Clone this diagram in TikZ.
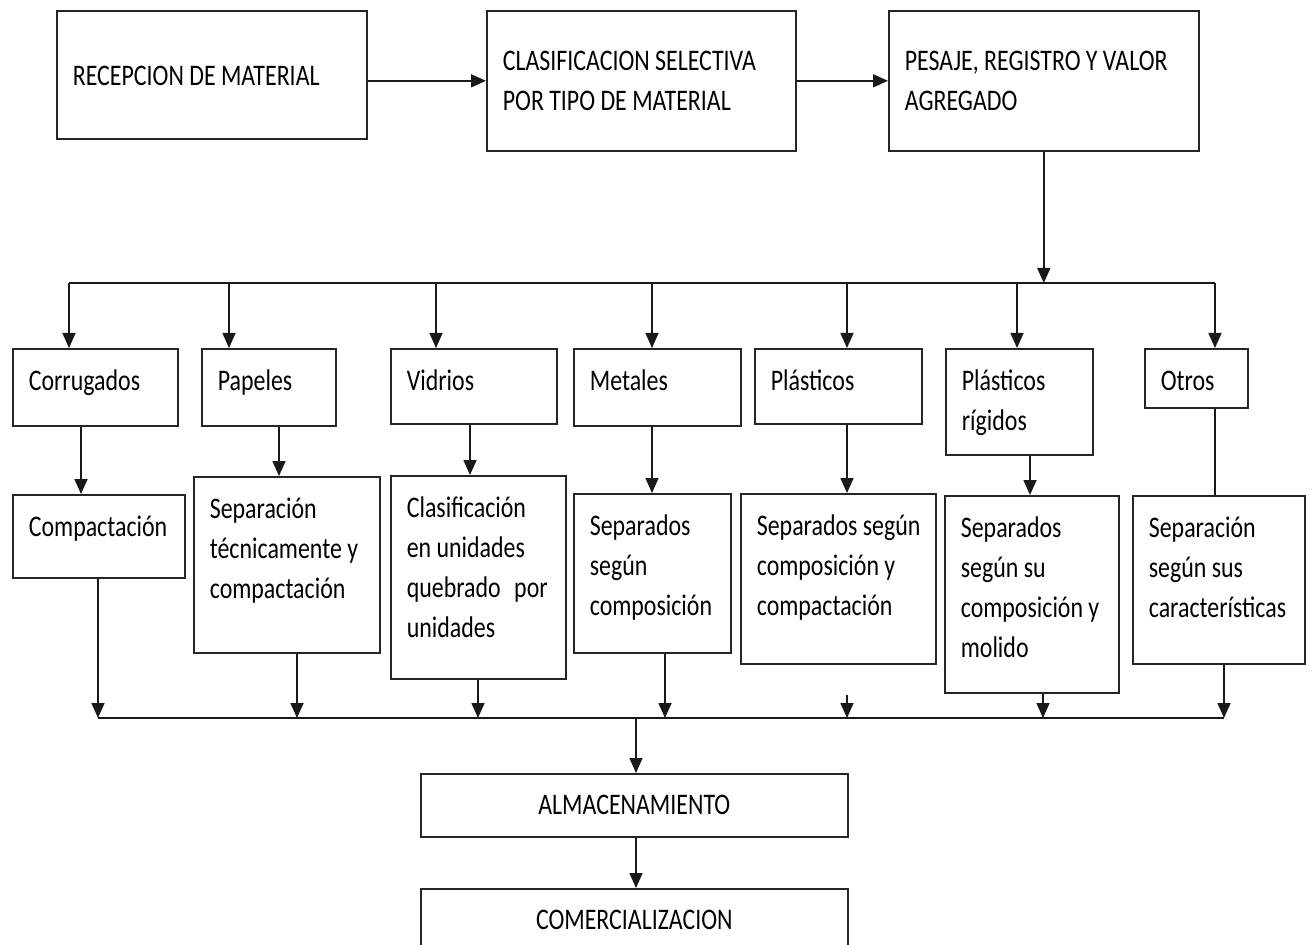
\documentclass[tikz,border=0pt]{standalone}
\usepackage{fontspec}
\setmainfont{Carlito}[FakeStretch=0.8]
\usetikzlibrary{arrows.meta}

\begin{document}
\begin{tikzpicture}[x=0.02cm, y=-0.02cm, line width=0.95pt,
      font=\fontsize{17}{22.7}\selectfont,
      caja/.style={draw=black!85, anchor=north west, align=left,
                   inner xsep=0.32cm, inner ysep=0pt, text height=0.84cm,
                   execute at begin node={\spaceskip=0.18em\relax}},
      centro/.style={draw=black!85, anchor=north west, inner sep=0pt,
                     minimum width=8.54cm, minimum height=1.26cm},
      flecha/.style={draw=black!90, -{Triangle[length=0.3cm, width=0.26cm]}}]
    \useasboundingbox (0,0) rectangle (1309,945);
    % fila superior
    \node[caja, text width=5.56cm, text height=1.5cm, text depth=1.06cm] (rec) at (56,10) {RECEPCION DE MATERIAL};
    \node[caja, text width=5.54cm, text height=1.2cm, text depth=1.6cm] (clas) at (486,10) {CLASIFICACION SELECTIVA\\POR TIPO DE MATERIAL};
    \node[caja, text width=5.56cm, text height=1.2cm, text depth=1.6cm] (pes) at (888,10) {PESAJE, REGISTRO Y VALOR\\AGREGADO};
    \draw[flecha] (rec.east |- clas.west) -- (clas.west);
    \draw[flecha] (clas) -- (pes);
    % tipos de material
    \node[caja, text width=2.66cm, text depth=0.7cm] (corr) at (12,348) {Corrugados};
    \node[caja, text width=2.04cm, text depth=0.7cm] (pap) at (201,348) {Papeles};
    \node[caja, text width=2.68cm, text depth=0.66cm] (vid) at (390,348) {Vidrios};
    \node[caja, text width=2.7cm, text depth=0.7cm] (met) at (573,348) {Metales};
    \node[caja, text width=2.7cm, text depth=0.66cm] (pla) at (754,348) {Plásticos};
    \node[caja, text width=2.3cm, text depth=1.28cm] (rig) at (945,348) {Plásticos\\rígidos};
    \node[caja, text width=1.42cm, text depth=0.34cm] (otr) at (1144,348) {Otros};
    % tratamiento
    \node[caja, text width=2.8cm, text depth=0.82cm] (comp) at (12,494) {Compactación};
    \node[caja, text width=3.08cm, text depth=2.68cm] (sept) at (193,476) {Separación\\técnicamente~y\\compactación};
    \node[caja, text width=2.86cm, text depth=3.22cm] (clu) at (390,475) {Clasificación\\en~unidades\\quebrado\hspace{0.45em}por\\unidades};
    \node[caja, text width=2.5cm, text depth=2.34cm] (sepc) at (573,493) {Separados\\según\\composición};
    \node[caja, text width=3.26cm, text depth=2.56cm] (sepcc) at (740,493) {Separados~según\\composición~y\\compactación};
    \node[caja, text width=2.84cm, text depth=3.1cm] (sepm) at (944,495) {Separados\\según~su\\composición~y\\molido};
    \node[caja, text width=2.8cm, text depth=2.52cm] (sepo) at (1132,495) {Separación\\según~sus\\características};
    % final
    \node[centro] (alm) at (420,773) {ALMACENAMIENTO};
    \node[centro] (com) at (420,888) {COMERCIALIZACION};

    % reparto hacia los tipos
    \foreach \n/\x in {corr/69, pap/229, vid/436, met/652, pla/847, rig/1017, otr/1215}
      \coordinate (d-\n) at (\x,283);
    \draw[draw=black!90] (d-corr) -- (d-otr);
    \draw[flecha] (pes.south) -- (pes.south |- d-corr);
    \foreach \n in {corr, pap, vid, met, pla, rig, otr}
      \draw[flecha] (d-\n) -- (d-\n |- \n.north);
    \foreach \a/\b/\x in {corr/comp/81, pap/sept/279, vid/clu/470, met/sepc/652, pla/sepcc/847, rig/sepm/1030}
      \draw[flecha] (\a.south -| \x,0) -- (\b.north -| \x,0);
    \draw[draw=black!90] (otr.south -| 1215,0) -- (sepo.north -| 1215,0);

    % reunion hacia almacenamiento
    \foreach \n/\x in {comp/98, sept/297, clu/478, sepc/665, sepcc/847, sepm/1043, sepo/1224}
      \coordinate (e-\n) at (\x,718);
    \draw[draw=black!90] (e-comp) -- (e-sepo);
    \foreach \n in {comp, sept, clu, sepc, sepm, sepo}
      \draw[flecha] (\n.south -| e-\n) -- (e-\n);
    \coordinate (p-sepcc) at (847,695);
    \draw[flecha] (p-sepcc) -- (e-sepcc);
    \coordinate (mid) at (636,718);
    \draw[flecha] (mid) -- (mid |- alm.north);
    \draw[flecha] (alm.south -| mid) -- (com.north -| mid);
  \end{tikzpicture}
\end{document}
